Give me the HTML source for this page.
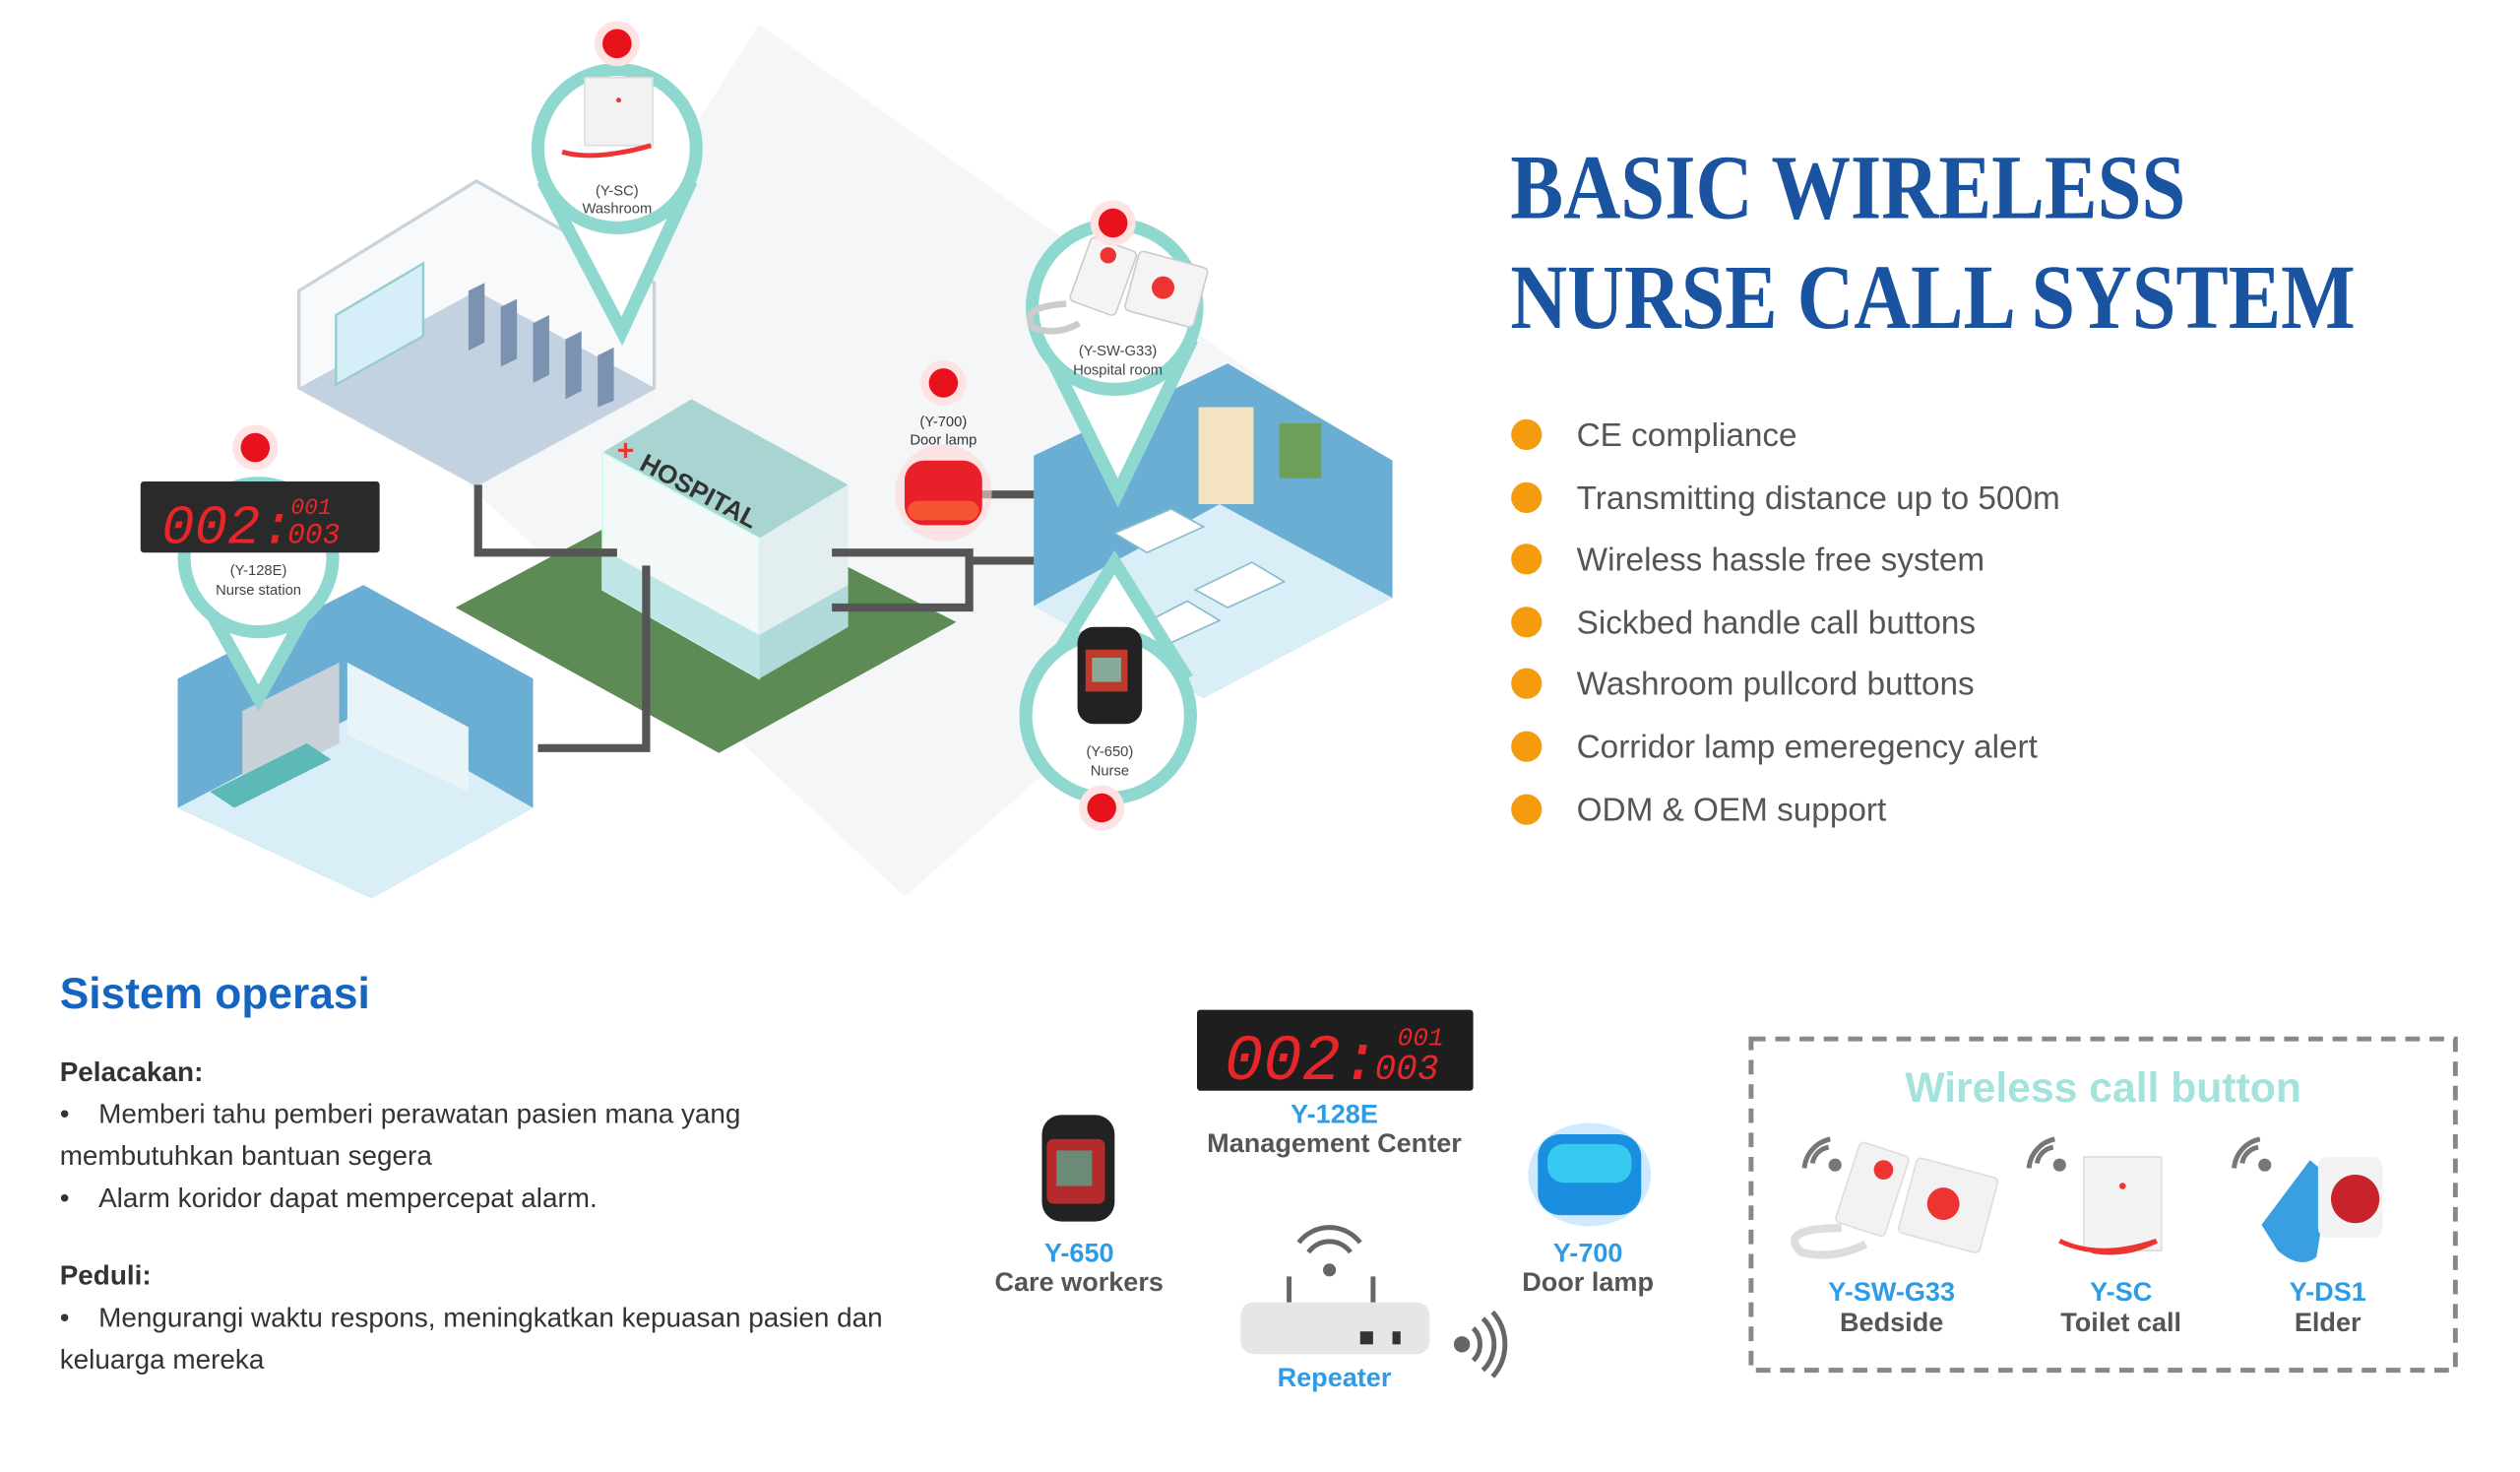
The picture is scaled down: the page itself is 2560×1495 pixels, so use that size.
<!DOCTYPE html>
<html><head><meta charset="utf-8"><style>
html,body{margin:0;padding:0;background:#fff;}
svg{display:block}
.s{font-family:"Liberation Sans",sans-serif}
</style></head><body>
<svg width="2560" height="1495" viewBox="0 0 1560 911" xmlns="http://www.w3.org/2000/svg" class="s">
<rect width="1560" height="911" fill="#fff"/>
<!-- background diamond -->
<polygon points="470,15 860,290 560,555 290,300" fill="#f4f6f7"/>
<!-- washroom room -->
<polygon points="185,180 295,112 405,175 405,240 295,300 185,240" fill="#f7f9fa" stroke="#c9d3dc" stroke-width="2"/>
<polygon points="185,240 295,180 405,240 295,300" fill="#c3d2e0"/>
<polygon points="208,195 262,163 262,208 208,238" fill="#d6eef8" stroke="#9cc" stroke-width="1.5"/>
<g fill="#7b93b0"><polygon points="290,180 300,175 300,212 290,217"/><polygon points="310,190 320,185 320,222 310,227"/><polygon points="330,200 340,195 340,232 330,237"/><polygon points="350,210 360,205 360,242 350,247"/><polygon points="370,220 380,215 380,248 370,252"/></g>
<!-- green ground -->
<polygon points="282,376 425,300 592,385 445,466" fill="#5d8a55"/>
<!-- hospital building -->
<polygon points="373,280 428,247 525,300 470,333" fill="#a8d4d2"/>
<polygon points="373,280 470,333 470,420 373,365" fill="#f3f8f8" stroke="#cfe" stroke-width="1"/>
<polygon points="470,333 525,300 525,388 470,420" fill="#e2eef0"/>
<polygon points="373,340 470,393 470,420 373,365" fill="#bfe6e6"/>
<polygon points="470,393 525,362 525,388 470,420" fill="#b0dada"/>
<text x="395" y="290" font-size="16" font-weight="bold" fill="#333" transform="rotate(28 395 290)">HOSPITAL</text>
<text x="382" y="285" font-size="18" font-weight="bold" fill="#e53935">+</text>
<!-- nurse station room -->
<polygon points="110,420 225,362 330,420 330,500 230,556 110,500" fill="#6aaed3"/>
<polygon points="110,500 225,440 330,500 230,556" fill="#d9eef7"/>
<polygon points="150,440 210,410 210,460 150,490" fill="#c8d0d8"/>
<polygon points="215,410 290,450 290,490 215,455" fill="#e9f4f8"/>
<polygon points="130,490 190,460 205,470 145,500" fill="#5db8b8"/>
<!-- hospital room right -->
<polygon points="640,282 760,225 862,285 862,370 745,432 640,375" fill="#6aaed3"/>
<polygon points="640,375 755,312 862,370 745,432" fill="#d9eef7"/>
<rect x="742" y="252" width="34" height="60" fill="#f4e3c0"/>
<rect x="792" y="262" width="26" height="34" fill="#6d9f58"/>
<g fill="#fff" stroke="#8bc"><polygon points="690,330 725,315 745,326 710,342"/><polygon points="740,365 775,348 795,360 760,376"/><polygon points="700,390 735,372 755,384 720,400"/></g>
<!-- connectors -->
<g stroke="#555" stroke-width="5" fill="none">
<polyline points="296,300 296,342 382,342"/>
<polyline points="400,350 400,463 333,463"/>
<polyline points="515,342 600,342 600,376 515,376"/>
<line x1="600" y1="347" x2="640" y2="347"/>
<line x1="605" y1="306" x2="640" y2="306"/>
</g>
<!-- door lamp -->
<circle cx="584" cy="305" r="30" fill="#ffd6d6" opacity=".6"/>
<rect x="560" y="285" width="48" height="40" rx="12" fill="#e8202a"/>
<rect x="562" y="310" width="44" height="12" rx="6" fill="#ff7a3a" opacity=".6"/>
<text x="584" y="264" font-size="9" text-anchor="middle" fill="#333">(Y-700)</text>
<text x="584" y="275" font-size="9" text-anchor="middle" fill="#333">Door lamp</text>
<!-- pins -->
<g fill="#fff" stroke="#8fd8d0" stroke-width="8">
<path d="M336,112 L385,205 L428,112"/>
<circle cx="382" cy="92" r="49"/>
<path d="M120,360 L160,432 L200,360"/>
<circle cx="160" cy="345" r="46"/>
<path d="M645,210 L692,305 L738,210"/>
<circle cx="690" cy="190" r="51"/>
<path d="M645,420 L690,348 L735,420"/>
<circle cx="686" cy="443" r="51"/>
</g>
<!-- pin contents -->
<rect x="362" y="48" width="42" height="42" fill="#f2f2f2" stroke="#ddd"/>
<circle cx="383" cy="62" r="1.5" fill="#e33"/>
<path d="M348,94 q20,6 55,-4" stroke="#e33" stroke-width="3" fill="none"/>
<text x="382" y="121" font-size="9" text-anchor="middle" fill="#444">(Y-SC)</text>
<text x="382" y="132" font-size="9" text-anchor="middle" fill="#444">Washroom</text>
<rect x="668" y="150" width="30" height="42" rx="3" fill="#f4f4f4" stroke="#ccc" transform="rotate(20 683 171)"/>
<rect x="700" y="160" width="44" height="38" rx="3" fill="#f4f4f4" stroke="#ccc" transform="rotate(15 722 179)"/>
<circle cx="686" cy="158" r="5" fill="#e33"/><circle cx="720" cy="178" r="7" fill="#e33"/>
<path d="M660,188 q-30,2 -20,15 q15,5 28,-3" stroke="#ccc" stroke-width="4" fill="none"/>
<text x="692" y="220" font-size="9" text-anchor="middle" fill="#444">(Y-SW-G33)</text>
<text x="692" y="232" font-size="9" text-anchor="middle" fill="#444">Hospital room</text>
<rect x="667" y="388" width="40" height="60" rx="10" fill="#222"/>
<rect x="672" y="402" width="26" height="26" fill="#c0392b"/>
<rect x="676" y="407" width="18" height="15" fill="#8a9"/>
<text x="687" y="468" font-size="9" text-anchor="middle" fill="#444">(Y-650)</text>
<text x="687" y="480" font-size="9" text-anchor="middle" fill="#444">Nurse</text>
<!-- nurse display -->
<rect x="87" y="298" width="148" height="44" rx="2" fill="#2a2a2a"/>
<text x="100" y="336" font-size="34" fill="#e8262a" font-family="Liberation Mono" font-style="italic">002:</text>
<text x="180" y="318" font-size="14" fill="#e8262a" font-family="Liberation Mono" font-style="italic">001</text>
<text x="178" y="336" font-size="18" fill="#e8262a" font-family="Liberation Mono" font-style="italic">003</text>
<text x="160" y="356" font-size="9" text-anchor="middle" fill="#444">(Y-128E)</text>
<text x="160" y="368" font-size="9" text-anchor="middle" fill="#444">Nurse station</text>
<!-- red dots -->
<g fill="#ffe2e2"><circle cx="382" cy="27" r="14"/><circle cx="158" cy="277" r="14"/><circle cx="689" cy="138" r="14"/><circle cx="584" cy="237" r="14"/><circle cx="682" cy="500" r="14"/></g>
<g fill="#e8121d"><circle cx="382" cy="27" r="9"/><circle cx="158" cy="277" r="9"/><circle cx="689" cy="138" r="9"/><circle cx="584" cy="237" r="9"/><circle cx="682" cy="500" r="9"/></g>

<!-- title -->
<g font-family="Liberation Serif,serif" font-weight="bold" fill="#1a53a0">
<text x="935" y="135" font-size="57" textLength="418" lengthAdjust="spacingAndGlyphs">BASIC WIRELESS</text>
<text x="935" y="203" font-size="57" textLength="523" lengthAdjust="spacingAndGlyphs">NURSE CALL SYSTEM</text>
</g>
<g fill="#f59c0e"><circle cx="945" cy="269" r="9.5"/><circle cx="945" cy="308" r="9.5"/><circle cx="945" cy="346" r="9.5"/><circle cx="945" cy="385" r="9.5"/><circle cx="945" cy="423" r="9.5"/><circle cx="945" cy="462" r="9.5"/><circle cx="945" cy="501" r="9.5"/></g>
<g font-size="20.3" fill="#555">
<text x="976" y="276">CE compliance</text>
<text x="976" y="315">Transmitting distance up to 500m</text>
<text x="976" y="353">Wireless hassle free system</text>
<text x="976" y="392">Sickbed handle call buttons</text>
<text x="976" y="430">Washroom pullcord buttons</text>
<text x="976" y="469">Corridor lamp emeregency alert</text>
<text x="976" y="508">ODM &amp; OEM support</text>
</g>

<!-- bottom left text -->
<text x="37" y="624" font-size="27" font-weight="bold" fill="#1565c0">Sistem operasi</text>
<g font-size="17" fill="#333">
<text x="37" y="669" font-weight="bold">Pelacakan:</text>
<text x="37" y="695">•</text><text x="61" y="695">Memberi tahu pemberi perawatan pasien mana yang</text>
<text x="37" y="721">membutuhkan bantuan segera</text>
<text x="37" y="747">•</text><text x="61" y="747">Alarm koridor dapat mempercepat alarm.</text>
<text x="37" y="795" font-weight="bold">Peduli:</text>
<text x="37" y="821">•</text><text x="61" y="821">Mengurangi waktu respons, meningkatkan kepuasan pasien dan</text>
<text x="37" y="847">keluarga mereka</text>
</g>

<!-- bottom devices -->
<rect x="741" y="625" width="171" height="50" rx="2" fill="#1e1e1e"/>
<text x="758" y="668" font-size="40" fill="#e8262a" font-family="Liberation Mono" font-style="italic">002:</text>
<text x="865" y="647" font-size="16" fill="#e8262a" font-family="Liberation Mono" font-style="italic">001</text>
<text x="851" y="668" font-size="22" fill="#e8262a" font-family="Liberation Mono" font-style="italic">003</text>
<text x="826" y="695" font-size="16.5" font-weight="bold" text-anchor="middle" fill="#2e9be6">Y-128E</text>
<text x="826" y="713" font-size="16.5" font-weight="bold" text-anchor="middle" fill="#555">Management Center</text>

<rect x="645" y="690" width="45" height="66" rx="12" fill="#222"/>
<rect x="648" y="705" width="36" height="40" rx="4" fill="#b52a2a"/>
<rect x="654" y="712" width="22" height="22" fill="#6b8a78"/>
<text x="668" y="781" font-size="16.5" font-weight="bold" text-anchor="middle" fill="#2e9be6">Y-650</text>
<text x="668" y="799" font-size="16.5" font-weight="bold" text-anchor="middle" fill="#555">Care workers</text>

<ellipse cx="984" cy="727" rx="38" ry="32" fill="#cfe9ff"/>
<rect x="952" y="702" width="64" height="50" rx="14" fill="#1a8fe0"/>
<rect x="958" y="708" width="52" height="24" rx="10" fill="#38c9f0"/>
<text x="983" y="781" font-size="16.5" font-weight="bold" text-anchor="middle" fill="#2e9be6">Y-700</text>
<text x="983" y="799" font-size="16.5" font-weight="bold" text-anchor="middle" fill="#555">Door lamp</text>

<g stroke="#666" stroke-width="3" fill="none">
<path d="M810,775 a16,16 0 0 1 26,0"/><path d="M804,769 a24,24 0 0 1 38,0"/>
<line x1="798" y1="790" x2="798" y2="808"/><line x1="850" y1="790" x2="850" y2="808"/>
<path d="M912,822 a14,14 0 0 1 0,20"/><path d="M918,816 a22,22 0 0 1 0,32"/><path d="M924,812 a30,30 0 0 1 0,40"/>
</g>
<circle cx="823" cy="786" r="4" fill="#666"/><circle cx="905" cy="832" r="5" fill="#666"/>
<rect x="768" y="806" width="117" height="32" rx="8" fill="#e4e6e8"/>
<rect x="842" y="824" width="8" height="8" fill="#333"/><rect x="862" y="824" width="5" height="8" fill="#333"/>
<text x="826" y="858" font-size="16.5" font-weight="bold" text-anchor="middle" fill="#2e9be6">Repeater</text>

<!-- dashed box -->
<rect x="1084" y="643" width="436" height="205" fill="none" stroke="#888" stroke-width="3" stroke-dasharray="9,6"/>
<text x="1302" y="682" font-size="26" font-weight="bold" text-anchor="middle" fill="#a4e2dc">Wireless call button</text>
<g stroke="#777" stroke-width="3" fill="none">
<path d="M1122,720 a12,12 0 0 1 10,-10"/><path d="M1117,723 a20,20 0 0 1 16,-18"/>
<path d="M1261,720 a12,12 0 0 1 10,-10"/><path d="M1256,723 a20,20 0 0 1 16,-18"/>
<path d="M1388,720 a12,12 0 0 1 10,-10"/><path d="M1383,723 a20,20 0 0 1 16,-18"/>
</g>
<g fill="#777"><circle cx="1136" cy="721" r="4"/><circle cx="1275" cy="721" r="4"/><circle cx="1402" cy="721" r="4"/></g>
<rect x="1143" y="710" width="32" height="52" rx="3" fill="#f2f2f2" stroke="#ddd" transform="rotate(18 1159 736)"/>
<rect x="1180" y="722" width="52" height="48" rx="3" fill="#f2f2f2" stroke="#ddd" transform="rotate(15 1206 746)"/>
<circle cx="1166" cy="724" r="6" fill="#e33"/><circle cx="1203" cy="745" r="10" fill="#e33"/>
<path d="M1140,760 q-40,0 -25,15 q20,5 40,-5" stroke="#ddd" stroke-width="5" fill="none"/>
<rect x="1290" y="716" width="48" height="58" fill="#f3f3f3" stroke="#ddd"/>
<circle cx="1314" cy="734" r="2" fill="#e33"/>
<path d="M1275,768 q25,12 60,0 q-20,10 -40,6" stroke="#e33" stroke-width="3" fill="none"/>
<path d="M1400,758 l30,-40 l12,10 l-8,50 q-10,8 -24,-4 z" fill="#3a9fe0"/>
<rect x="1435" y="716" width="40" height="50" rx="6" fill="#f2f2f2"/>
<circle cx="1458" cy="742" r="15" fill="#c8232b"/>
<g font-size="16.5" font-weight="bold" text-anchor="middle">
<text x="1171" y="805" fill="#2e9be6">Y-SW-G33</text><text x="1171" y="824" fill="#555">Bedside</text>
<text x="1313" y="805" fill="#2e9be6">Y-SC</text><text x="1313" y="824" fill="#555">Toilet call</text>
<text x="1441" y="805" fill="#2e9be6">Y-DS1</text><text x="1441" y="824" fill="#555">Elder</text>
</g>
</svg>
</body></html>
